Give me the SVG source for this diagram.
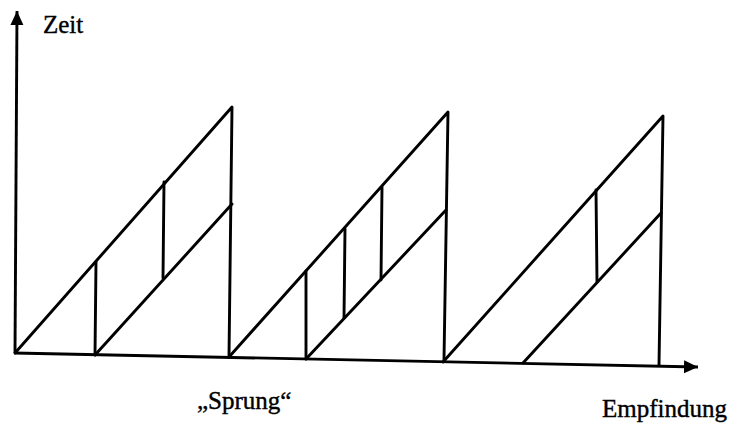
<svg xmlns="http://www.w3.org/2000/svg" width="740" height="425" viewBox="0 0 740 425">
<style>
.ln{stroke:#000;stroke-width:2.9;fill:none;stroke-linecap:round;stroke-linejoin:round}
.ax{stroke:#000;stroke-width:2.9;fill:none}
.tx{font-family:"Liberation Serif","Times New Roman",serif;font-size:25px;fill:#000;stroke:#000;stroke-width:0.4}
</style>
<defs>
<marker id="arr" markerWidth="16" markerHeight="14" refX="14" refY="6.5" orient="auto" markerUnits="userSpaceOnUse">
<path d="M0,0 L14,6.5 L0,13 Z" fill="#000"/>
</marker>
</defs>
<rect width="740" height="425" fill="#fff"/>
<g id="axes">
<line class="ax" x1="15" y1="353" x2="17" y2="11" marker-end="url(#arr)"/>
<line class="ax" x1="14" y1="353" x2="698" y2="367" marker-end="url(#arr)"/>
</g>
<g id="connectors">
<polyline class="ln" points="15,353 232,107 229,357"/>
<polyline class="ln" points="95,355 232,204"/>
<line class="ln" x1="95" y1="355" x2="96" y2="262"/>
<line class="ln" x1="163" y1="278" x2="164" y2="182"/>
<polyline class="ln" points="229,357 448,112 444,360"/>
<polyline class="ln" points="306,359 446,210"/>
<line class="ln" x1="306" y1="359" x2="306" y2="271"/>
<line class="ln" x1="344" y1="318" x2="345" y2="229"/>
<line class="ln" x1="381" y1="280" x2="382" y2="187"/>
<polyline class="ln" points="443,362 663,116 659,365"/>
<polyline class="ln" points="523,363 661,213"/>
<line class="ln" x1="597" y1="282" x2="596" y2="190"/>
</g>
<g id="labels">
<text class="tx" x="43" y="33">Zeit</text>
<text class="tx" x="197" y="409">„Sprung“</text>
<text class="tx" x="602" y="417">Empfindung</text>
</g>
</svg>
